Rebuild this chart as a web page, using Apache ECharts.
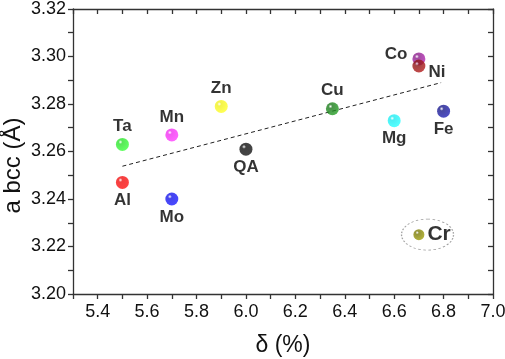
<!DOCTYPE html>
<html><head><meta charset="utf-8">
<script src="https://cdn.jsdelivr.net/npm/echarts@6/dist/echarts.min.js"></script>
<style>html,body{margin:0;padding:0;background:#fff}#c{width:505px;height:359px}</style>
</head><body><div id="c"></div>
<script>
const names = ['Ta','Mn','Zn','QA','Al','Mo','Cu','Co','Ni','Mg','Fe','Cr'];
const deltaVals = [5.5, 5.7, 5.9, 6.0, 5.5, 5.7, 6.35, 6.7, 6.7, 6.6, 6.8, 6.7];
const abccVals = [3.263, 3.267, 3.279, 3.261, 3.247, 3.240, 3.278, 3.299, 3.296, 3.273, 3.277, 3.225];
const trendX = [5.5, 6.79];
const trendY = [3.2538, 3.289];
const xTicks = [5.4, 5.6, 5.8, 6.0, 6.2, 6.4, 6.6, 6.8, 7.0];
const yTicks = [3.20, 3.22, 3.24, 3.26, 3.28, 3.30, 3.32];
const crCircle = [6.735, 3.225];

const colors = ['#2ee02e','#f030f0','#f0f020','#111111','#f01010','#1515e8','#1d7a1d','#8a1f8a','#8a1515','#20eaf0','#1a1a8a','#7a7a08'];
const labelPos = ['top','top','top','bottom','bottom','bottom','top','left','right','bottom','bottom','right'];
const labelOff = [[0,0],[0,0],[0,0],[0,0],[0,0],[0,0],[0,0],[-2,-5],[0,6],[0,0],[0,0],[0,0]];
const FF = 'Liberation Sans, Arial, sans-serif';

function sphere(c){
  return {type:'radial',x:0.35,y:0.32,r:0.7,colorStops:[{offset:0,color:'#ffffff'},{offset:0.22,color:c},{offset:1,color:echarts.color.lift(c,-0.3)}]};
}

const pts = names.map((n,i)=>({
  value:[deltaVals[i],abccVals[i]], name:n,
  symbolSize:n==='Cr'?11:13,
  itemStyle:{color:sphere(colors[i])},
  label:{show:true,formatter:n,position:labelPos[i],offset:labelOff[i],distance:3,
    fontSize:n==='Cr'?21:17,fontWeight:'bold',color:'#000',fontFamily:FF}
}));

const axisFont = {fontSize:18,color:'#111',fontFamily:FF};
const lineSt = {color:'#333',width:1.3};

const chart = echarts.init(document.getElementById('c'));
chart.setOption({
  animation:false,
  grid:{left:73,right:12,top:9,bottom:65,containLabel:false,outerBoundsMode:'none'},
  xAxis:[{
    type:'value',min:5.3,max:7.0,interval:0.1,
    axisLine:{show:true,lineStyle:lineSt,onZero:false},
    axisTick:{show:true,length:5,lineStyle:lineSt},
    splitLine:{show:false},
    axisLabel:Object.assign({margin:9,formatter:v=>xTicks.some(t=>Math.abs(t-v)<1e-6)?v.toFixed(1):''},axisFont),
    name:'δ (%)',nameLocation:'middle',nameGap:40,nameMoveOverlap:false,
    nameTextStyle:{fontSize:23,color:'#111',fontFamily:FF}
  },{
    type:'value',min:5.3,max:7.0,interval:0.1,position:'top',
    axisLine:{show:true,lineStyle:lineSt,onZero:false},
    axisTick:{show:true,inside:true,length:5,lineStyle:lineSt},
    axisLabel:{show:false},splitLine:{show:false}
  }],
  yAxis:[{
    type:'value',min:3.20,max:3.32,interval:0.01,
    axisLine:{show:true,lineStyle:lineSt,onZero:false},
    axisTick:{show:true,length:5,lineStyle:lineSt},
    splitLine:{show:false},
    axisLabel:Object.assign({margin:7,formatter:v=>yTicks.some(t=>Math.abs(t-v)<1e-6)?v.toFixed(2):''},axisFont),
    name:'a bcc (Å)',nameLocation:'middle',nameGap:48,nameRotate:90,nameMoveOverlap:false,
    nameTextStyle:{fontSize:24,color:'#111',fontFamily:FF,padding:[0,28,0,0]}
  },{
    type:'value',min:3.20,max:3.32,interval:0.01,position:'right',
    axisLine:{show:true,lineStyle:lineSt,onZero:false},
    axisTick:{show:true,inside:true,length:5,lineStyle:lineSt},
    axisLabel:{show:false},splitLine:{show:false}
  }],
  series:[{
    type:'line',data:trendX.map((x,i)=>[x,trendY[i]]),symbol:'none',
    lineStyle:{type:[4,3],color:'#222',width:1},z:1
  },{
    type:'scatter',data:[crCircle],symbol:'path://M50,0 A50,30 0 1,1 50,60 A50,30 0 1,1 50,0 Z',
    symbolSize:[52,31],itemStyle:{color:'rgba(0,0,0,0)',borderColor:'#888',borderType:[2,2],borderWidth:1},z:1,silent:true
  },{
    type:'scatter',data:pts,z:3
  }]
});
</script></body></html>
